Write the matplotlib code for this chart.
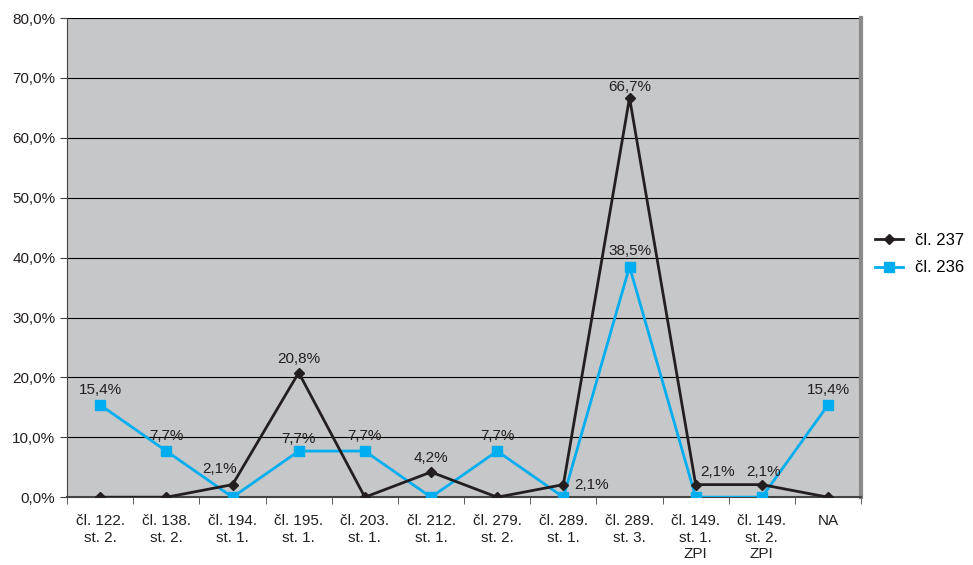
import numpy as np
import matplotlib.pyplot as plt
from matplotlib.ticker import FuncFormatter

plt.rcParams['font.family'] = ['Liberation Sans', 'DejaVu Sans']

categories = ['čl. 122.\nst. 2.', 'čl. 138.\nst. 2.', 'čl. 194.\nst. 1.', 'čl. 195.\nst. 1.',
              'čl. 203.\nst. 1.', 'čl. 212.\nst. 1.', 'čl. 279.\nst. 2.', 'čl. 289.\nst. 1.',
              'čl. 289.\nst. 3.', 'čl. 149.\nst. 1.\nZPI', 'čl. 149.\nst. 2.\nZPI', 'NA']
cl237 = [0.0, 0.0, 2.1, 20.8, 0.0, 4.2, 0.0, 2.1, 66.7, 2.1, 2.1, 0.0]
cl236 = [15.4, 7.7, 0.0, 7.7, 7.7, 0.0, 7.7, 0.0, 38.5, 0.0, 0.0, 15.4]

black = '#231f20'
blue = '#00aeef'
fs = 11

fig = plt.figure(figsize=(9.73, 5.65), dpi=100)
ax = fig.add_axes([0.069, 0.12, 0.816, 0.848])
ax.set_facecolor('#c6c7c9')

x = np.arange(len(categories))
ax.plot(x, cl237, color=black, lw=2, marker='D', ms=5, label='čl. 237', zorder=4)
ax.plot(x, cl236, color=blue, lw=2, marker='s', ms=7, label='čl. 236', zorder=3)

# data labels (nonzero only), offsets in points
off237 = {2: (-9, 6, 'bottom'), 3: (0, 5, 'bottom'), 5: (0, 5, 'bottom'),
          7: (20, 0, 'center'), 8: (0, 3, 'bottom'), 9: (16, 4, 'bottom'), 10: (1, 4, 'bottom')}
for i, v in enumerate(cl237):
    if v > 0:
        dx, dy, va = off237.get(i, (0, 5, 'bottom'))
        ax.annotate(f'{v:.1f}%'.replace('.', ','), (x[i], v), xytext=(dx, dy),
                    textcoords='offset points', ha='center', va=va, fontsize=fs, color=black)
for i, v in enumerate(cl236):
    if v > 0:
        dy = 6 if i != 3 else 4
        ax.annotate(f'{v:.1f}%'.replace('.', ','), (x[i], v), xytext=(0, dy),
                    textcoords='offset points', ha='center', va='bottom', fontsize=fs, color=black)

ax.set_xlim(-0.5, len(categories) - 0.5)
ax.set_ylim(0, 80)
ax.set_yticks(np.arange(0, 81, 10))
ax.yaxis.set_major_formatter(FuncFormatter(lambda v, p: f'{v:.1f}%'.replace('.', ',')))
ax.grid(axis='y', color='black', lw=0.8)
ax.set_axisbelow(True)

ax.set_xticks(x)
ax.set_xticklabels(categories, fontsize=fs, color=black, linespacing=1.25)
ax.tick_params(axis='x', length=0, pad=12)
ax.set_xticks(np.arange(-0.5, len(categories)), minor=True)
ax.tick_params(axis='x', which='minor', length=5, color='#444444')
ax.tick_params(axis='y', labelsize=fs, labelcolor=black, length=5, color='#444444')

ax.spines['top'].set_visible(False)
ax.spines['right'].set_color('#8a8a8a')
ax.spines['right'].set_linewidth(3)
ax.spines['left'].set_color('#444444')
ax.spines['bottom'].set_color('#444444')
ax.spines['bottom'].set_linewidth(1.5)

ax.legend(loc='center left', bbox_to_anchor=(0.899, 0.55), bbox_transform=fig.transFigure,
          frameon=False, fontsize=12, handlelength=1.7, handletextpad=0.7,
          labelspacing=0.75, borderpad=0, borderaxespad=0)

fig.savefig('out.png', dpi=100)
